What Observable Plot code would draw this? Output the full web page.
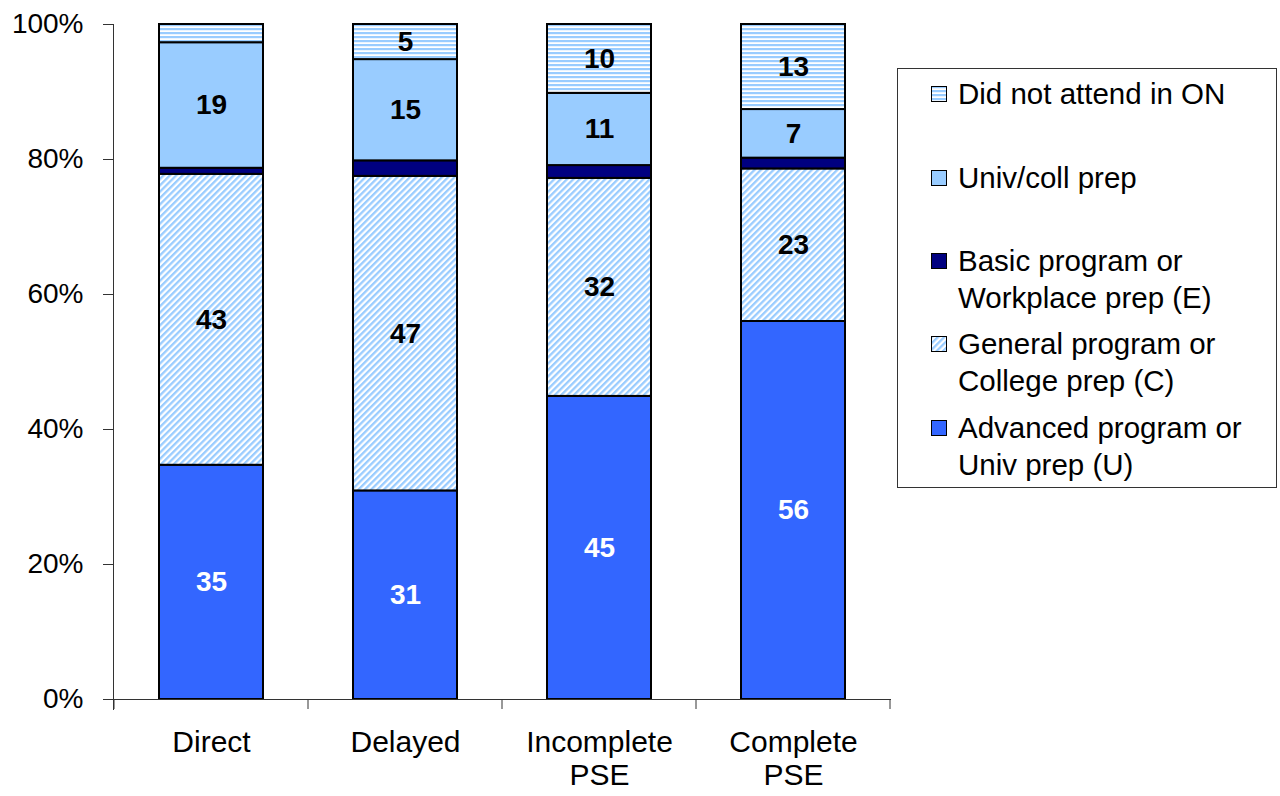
<!DOCTYPE html>
<html><head><meta charset="utf-8">
<script src="https://cdn.jsdelivr.net/npm/d3@7"></script>
<script src="https://cdn.jsdelivr.net/npm/@observablehq/plot@0.6"></script>
<style>
body{margin:0;background:#fff;font-family:"Liberation Sans",Arial,sans-serif;}
#wrap{position:relative;width:1280px;height:796px;overflow:hidden;}
#legend{position:absolute;left:897px;top:68px;width:380px;height:420px;border:1px solid #333;box-sizing:border-box;background:#fff;}
.item{position:absolute;left:60px;font-size:29.5px;line-height:36.5px;color:#000;white-space:pre;}
.sw{position:absolute;left:-27px;top:10px;width:16px;height:16px;}
</style></head><body><div id="wrap"><div id="chart"></div><div id="legend"></div></div>
<script>
const categories = ["Direct", "Delayed", "Incomplete\nPSE", "Complete\nPSE"];
const series = [
  "Advanced program or\nUniv prep (U)",
  "General program or\nCollege prep (C)",
  "Basic program or\nWorkplace prep (E)",
  "Univ/coll prep",
  "Did not attend in ON"
];
const advanced     = [34.7, 30.9, 44.9, 56.0];
const general      = [43.1, 46.6, 32.3, 22.6];
const basic        = [0.9, 2.3, 1.9, 1.6];
const univColl     = [18.6, 15.0, 10.7, 7.2];
const didNotAttend = [2.7, 5.2, 10.2, 12.6];
const yTicks = [0, 0.2, 0.4, 0.6, 0.8, 1];

const seriesValues = [advanced, general, basic, univColl, didNotAttend];
const fills = ["#3366FF", "url(#diag)", "#000080", "#99CCFF", "url(#horiz)"];

const table = [];
categories.forEach((c, i) => {
  series.forEach((s, j) => {
    table.push({category: c, series: s, value: seriesValues[j][i] / 100});
  });
});

function bandTicks(index, scales, values, dims) {
  const g = d3.create("svg:g");
  const bw = scales.x.bandwidth();
  const xs = categories.map(c => scales.x(c));
  const step = xs[1] - xs[0];
  const bounds = xs.map(v => v + bw / 2 - step / 2);
  bounds.push(bounds[bounds.length - 1] + step);
  const y0 = scales.y(0);
  bounds.forEach(b => g.append("line").attr("x1", b).attr("x2", b).attr("y1", y0).attr("y2", y0 + 10).attr("stroke", "#333"));
  return g.node();
}

const plot = Plot.plot({
  width: 1280, height: 796,
  marginLeft: 113, marginRight: 390, marginTop: 24, marginBottom: 97,
  style: {fontFamily: "Liberation Sans, Arial, sans-serif", background: "white", color: "black", overflow: "visible"},
  x: {domain: categories, paddingInner: 0.465, paddingOuter: 0.2325, label: null},
  y: {domain: [0, 1], label: null},
  color: {domain: series, range: fills},
  marks: [
    Plot.barY(table, {x: "category", y: "value", fill: "series", z: "series", order: series, stroke: "#000", strokeWidth: 2}),
    Plot.text(table, Plot.stackY({
      x: "category", y: "value", z: "series", order: series,
      text: d => d.value >= 0.04 ? String(Math.round(d.value * 100)) : null,
      fill: d => d.series === series[0] ? "white" : "black",
      fontSize: 28, fontWeight: "bold"
    })),
    Plot.axisY({ticks: yTicks, tickFormat: d3.format(".0%"), tickSize: 10, tickPadding: 20, fontSize: 28, stroke: "#333"}),
    Plot.axisX({tickSize: 0, tickPadding: 29, fontSize: 30, lineHeight: 1.1}),
    Plot.frame({anchor: "left", insetBottom: -10, stroke: "#333"}),
    Plot.frame({anchor: "bottom", stroke: "#333"}),
    bandTicks
  ]
});

d3.select(plot).insert("defs", ":first-child").node().innerHTML = `
<pattern id="horiz" width="8" height="4" patternUnits="userSpaceOnUse"><rect width="8" height="4" fill="#fff"/><rect width="8" height="2.2" fill="#99CCFF"/></pattern>
<pattern id="diag" width="4.5" height="4.5" patternUnits="userSpaceOnUse" patternTransform="rotate(45)"><rect width="4.5" height="4.5" fill="#fff"/><rect width="2.3" height="4.5" fill="#99CCFF"/></pattern>`;

document.getElementById("chart").appendChild(plot);

// legend
const legendTops = [359, 275, 192, 109, 25];
const legend = d3.select("#legend");
series.forEach((s, j) => {
  const item = legend.append("div").attr("class", "item").style("top", (legendTops[j] - 18) + "px");
  const sw = item.append("svg").attr("class", "sw").attr("width", 16).attr("height", 16);
  sw.append("rect").attr("x", 0.5).attr("y", 0.5).attr("width", 15).attr("height", 15)
    .attr("fill", fills[j]).attr("stroke", "#000").attr("stroke-width", 1);
  item.append("span").text(s);
});
</script></body></html>
